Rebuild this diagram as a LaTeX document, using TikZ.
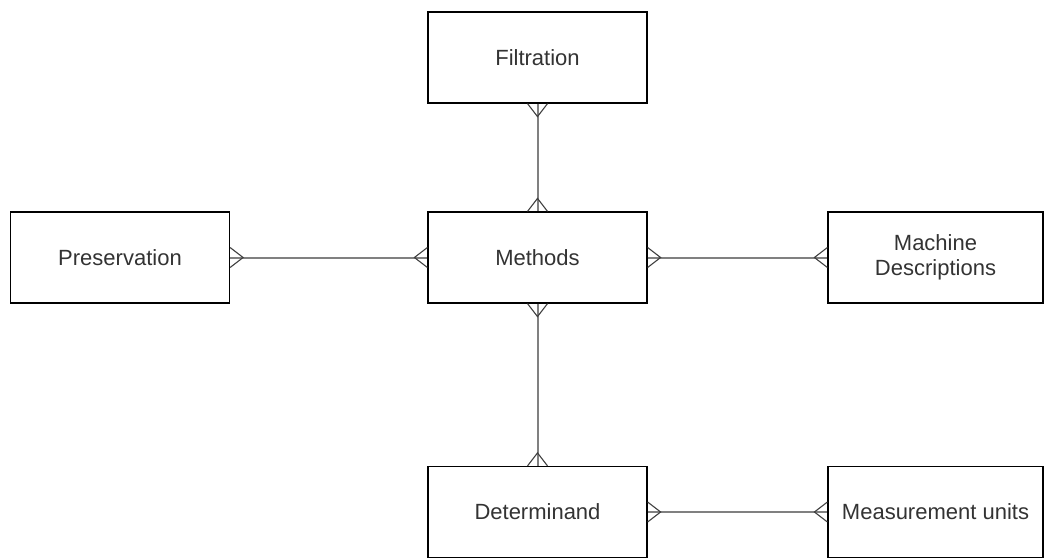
\documentclass[tikz,border=0pt]{standalone}
\usepackage{fontspec}
\setmainfont{Liberation Sans}
\usetikzlibrary{calc}
\definecolor{conn}{RGB}{128,128,128}
\definecolor{txt}{RGB}{51,51,51}
\tikzset{
  entity/.style={draw=black, line width=1.2pt, fill=white, minimum width=219pt, minimum height=91pt,
    inner sep=0pt, align=center, font=\fontsize{22}{25}\selectfont, text=txt},
  conline/.style={draw=conn, line width=2pt},
  crowline/.style={draw=black!75, line width=1.1pt},
}
% #1 end point, #2 apex offset, #3 leg offset
\newcommand\crowft[3]{%
  \draw[crowline] ($(#1)+(#3)$) -- ($(#1)+(#2)$) -- ($(#1)-(#3)$);%
}
\begin{document}
\begin{tikzpicture}[x=1pt,y=-1pt]
\useasboundingbox[fill=white] (0,0) rectangle (1044,559);
\node[entity] (filt) at (537.5,57.5) {Filtration};
\node[entity] (pres) at (120,257.5) {Preservation};
\node[entity] (meth) at (537.5,257.5) {Methods};
\node[entity, minimum width=215pt] (mach) at (935.5,257.5) {Machine\\Descriptions};
\node[entity] (det) at (537.5,512) {Determinand};
\node[entity, minimum width=215pt] (meas) at (935.5,512) {Measurement units};

\draw[conline] (filt.south) -- (meth.north);
\draw[conline] (pres.east) -- (meth.west);
\draw[conline] (meth.east) -- (mach.west);
\draw[conline] (meth.south) -- (det.north);
\draw[conline] (det.east) -- (meas.west);

\crowft{filt.south}{0,13}{10,0}
\crowft{meth.north}{0,-13}{10,0}
\crowft{pres.east}{13,0}{0,10}
\crowft{meth.west}{-13,0}{0,10}
\crowft{meth.east}{13,0}{0,10}
\crowft{mach.west}{-13,0}{0,10}
\crowft{meth.south}{0,13}{10,0}
\crowft{det.north}{0,-13}{10,0}
\crowft{det.east}{13,0}{0,10}
\crowft{meas.west}{-13,0}{0,10}
\end{tikzpicture}
\end{document}
